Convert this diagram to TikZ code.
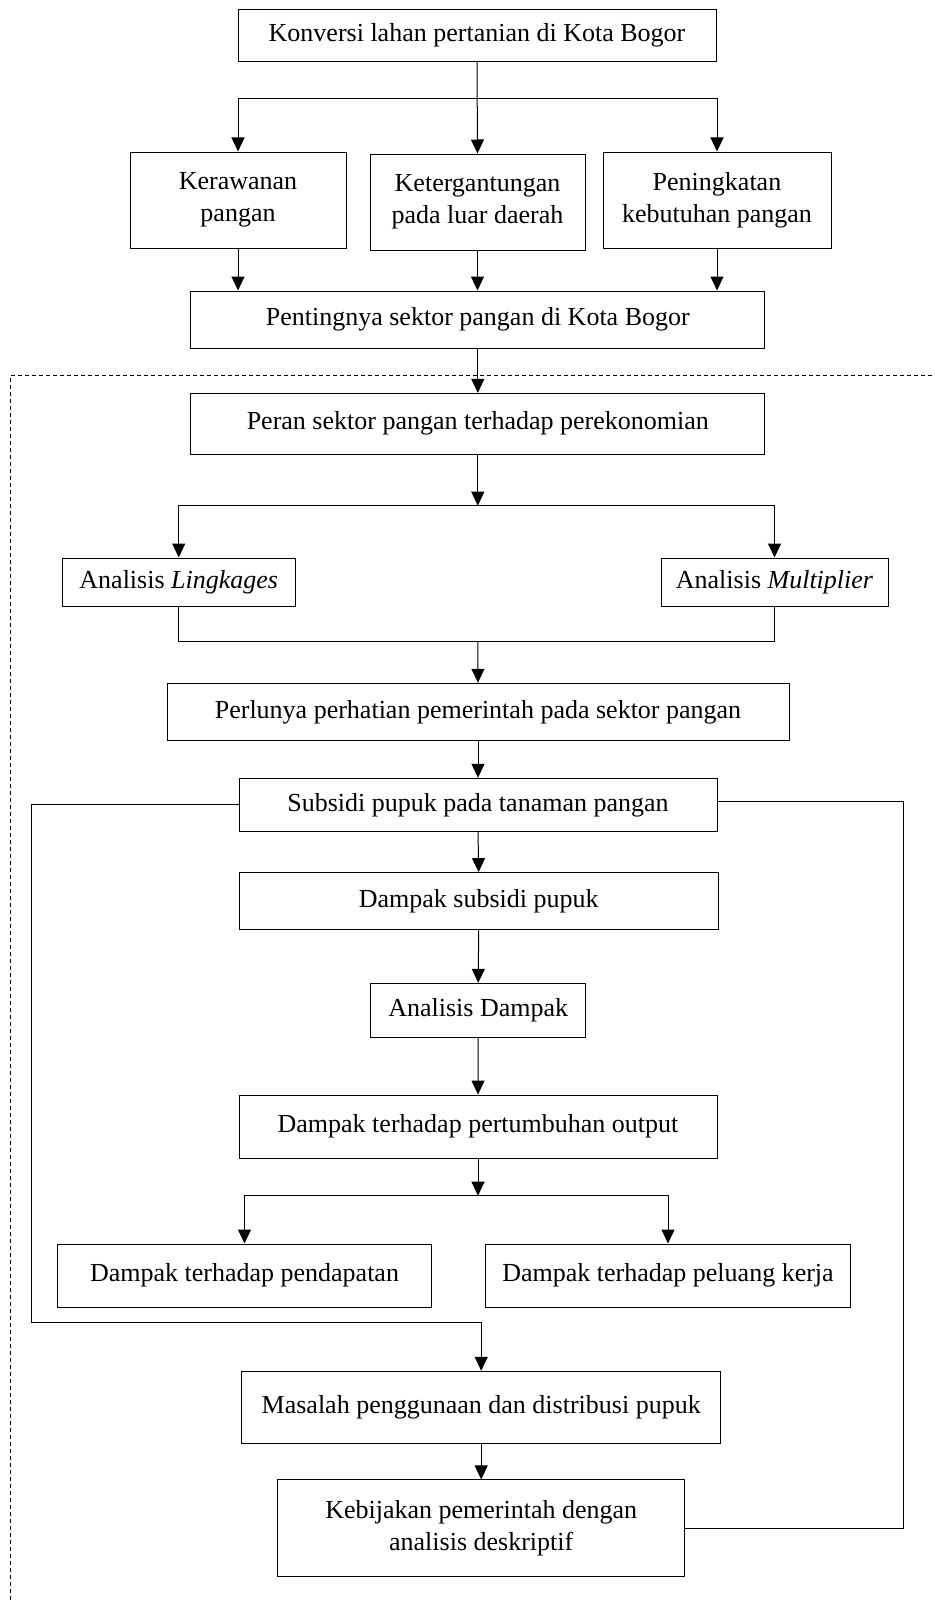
\documentclass[tikz,border=0pt]{standalone}
\usepackage{fontspec}
\setmainfont{Liberation Serif}
\usetikzlibrary{arrows.meta}
\begin{document}
\begin{tikzpicture}[x=1pt,y=-1pt,
  every node/.style={font=\fontsize{26}{32}\selectfont},
  box/.style={draw, line width=1pt, inner sep=0pt, align=center, anchor=center},
  ln/.style={line width=1pt},
  arr/.style={line width=1pt, -{Triangle[length=14pt,width=13pt]}},
  frameline/.style={line width=0.8pt, dash pattern=on 4pt off 3pt}]
\useasboundingbox (0,0) rectangle (934,1600);
\node[box, minimum width=478pt, minimum height=52pt] (top) at (477,35.3) {Konversi lahan pertanian di Kota Bogor};
\node[box, minimum width=216pt, minimum height=96pt] (kera) at (238,200) {Kerawanan\\pangan};
\node[box, minimum width=215pt, minimum height=96pt] (keter) at (477.5,202) {Ketergantungan\\pada luar daerah};
\node[box, minimum width=228pt, minimum height=96pt] (pening) at (717,200) {Peningkatan\\kebutuhan pangan};
\node[box, minimum width=574pt, minimum height=57pt] (penting) at (477.8,319.5) {Pentingnya sektor pangan di Kota Bogor};
\node[box, minimum width=574pt, minimum height=60.7pt] (peran) at (477.8,423.7) {Peran sektor pangan terhadap perekonomian};
\node[box, minimum width=232.5pt, minimum height=48pt] (ling) at (178.75,582) {Analisis \textit{Lingkages}};
\node[box, minimum width=227pt, minimum height=48pt] (mult) at (774.5,582) {Analisis \textit{Multiplier}};
\node[box, minimum width=622pt, minimum height=57.4pt] (perlu) at (478,712) {Perlunya perhatian pemerintah pada sektor pangan};
\node[box, minimum width=478pt, minimum height=53pt] (subsidi) at (478,804.8) {Subsidi pupuk pada tanaman pangan};
\node[box, minimum width=478.6pt, minimum height=57.3pt] (dsub) at (478.7,901.3) {Dampak subsidi pupuk};
\node[box, minimum width=215.5pt, minimum height=54pt] (adam) at (478.2,1010.3) {Analisis Dampak};
\node[box, minimum width=478pt, minimum height=63.3pt] (dpert) at (478,1126.7) {Dampak terhadap pertumbuhan output};
\node[box, minimum width=374.6pt, minimum height=63pt] (dpend) at (244.5,1275.5) {Dampak terhadap pendapatan};
\node[box, minimum width=365pt, minimum height=63pt] (dpel) at (668,1275.5) {Dampak terhadap peluang kerja};
\node[box, minimum width=479pt, minimum height=72pt] (masalah) at (481.2,1407.3) {Masalah penggunaan dan distribusi pupuk};
\node[box, minimum width=407.5pt, minimum height=96.7pt] (kebij) at (481.2,1528.3) {Kebijakan pemerintah dengan\\analisis deskriptif};
% coordinates
\coordinate (b1) at (477.7,99);
\coordinate (b2) at (477.8,505.7);
\coordinate (j2) at (477.8,641.7);
\coordinate (b3) at (478,1195.7);
\coordinate (l1) at (31.6,1322.7);
\coordinate (r1) at (903,801.3);
\coordinate (d1) at (10.7,1600);
\coordinate (d2) at (10.7,375.7);
\coordinate (d3) at (934,375.7);
% dashed frame
\draw[frameline] (d1) -- (d2) -- (d3);
% top section
\draw[arr] (top.south) -- (keter.north);
\draw[arr] (b1) -| (kera.north);
\draw[arr] (b1) -| (pening.north);
\draw[arr] (kera.south) -- (kera.south |- penting.north);
\draw[arr] (keter.south) -- (keter.south |- penting.north);
\draw[arr] (pening.south) -- (pening.south |- penting.north);
\draw[arr] (penting.south) -- (peran.north);
% lingkages / multiplier
\draw[arr] (peran.south) -- (b2);
\draw[arr] (b2) -| (ling.north);
\draw[arr] (b2) -| (mult.north);
\draw[ln] (ling.south) |- (j2) -| (mult.south);
\draw[arr] (j2) -- (perlu.north);
\draw[arr] (perlu.south) -- (perlu.south |- subsidi.north);
\draw[arr] (subsidi.south) -- (dsub.north);
\draw[arr] (dsub.south) -- (adam.north);
\draw[arr] (adam.south) -- (dpert.north);
\draw[arr] (dpert.south) -- (b3);
\draw[arr] (b3) -| (dpend.north);
\draw[arr] (b3) -| (dpel.north);
% feedback lines
\draw[arr] (subsidi.west) -| (l1) -| (masalah.north);
\draw[arr] (masalah.south) -- (kebij.north);
\draw[ln] (kebij.east) -| (r1) -- (r1 -| subsidi.east);
\end{tikzpicture}
\end{document}
